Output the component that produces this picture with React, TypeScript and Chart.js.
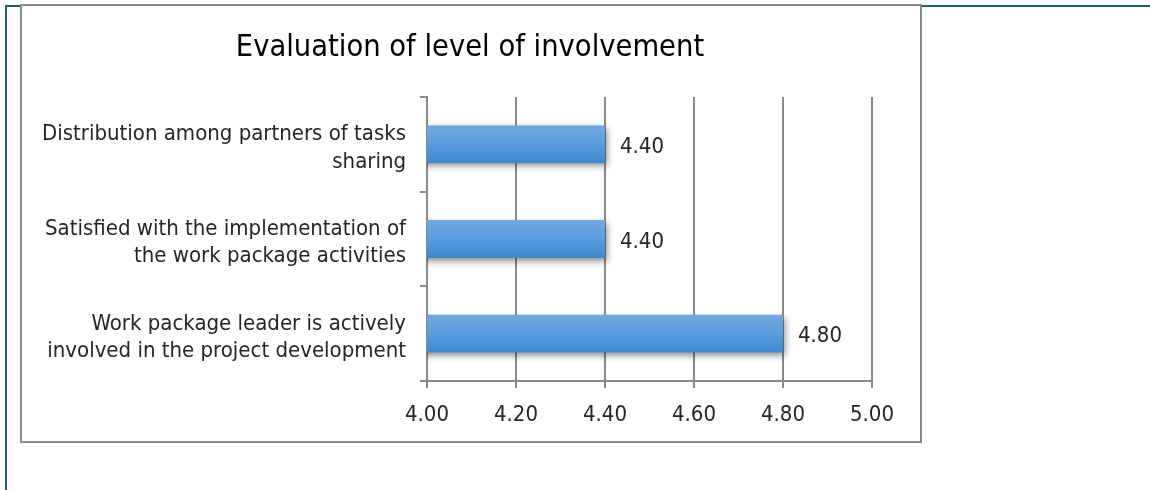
import React, { useEffect, useRef } from "react";
import { Chart, registerables } from "chart.js";

Chart.register(...registerables);

const TITLE = "Evaluation of level of involvement";
const categories: string[][] = [
  ["Distribution among partners of tasks", "sharing"],
  ["Satisfied with the implementation of", "the work package activities"],
  ["Work package leader is actively", "involved in the project development"],
];
const values: number[] = [4.4, 4.4, 4.8];
const xMin = 4.0;
const xMax = 5.0;
const xStep = 0.2;

const FONT = "'Liberation Sans Narrow', 'DejaVu Sans Condensed', 'Liberation Sans', sans-serif";
const GRID = "#8a8a8a";
const TEAL = "#1f5b69";
const TEXT = "#262626";

const framePlugin = {
  id: "frame",
  beforeDraw(chart: any) {
    const ctx = chart.ctx;
    ctx.save();
    ctx.fillStyle = "#ffffff";
    ctx.fillRect(0, 0, chart.width, chart.height);
    ctx.strokeStyle = TEAL;
    ctx.lineWidth = 2;
    ctx.beginPath();
    ctx.moveTo(5, 6);
    ctx.lineTo(chart.width, 6);
    ctx.moveTo(6, 5);
    ctx.lineTo(6, chart.height);
    ctx.stroke();
    ctx.fillStyle = "#ffffff";
    ctx.fillRect(21, 5, 900, 437);
    ctx.strokeStyle = GRID;
    ctx.lineWidth = 2;
    ctx.strokeRect(21, 5, 900, 437);
    ctx.fillStyle = "#000000";
    ctx.font = `30.5px ${FONT}`;
    ctx.textAlign = "center";
    ctx.textBaseline = "middle";
    ctx.fillText(TITLE, 470, 48);
    ctx.restore();
  },
};

const shiftLabelsPlugin = {
  id: "shiftYLabels",
  afterLayout(chart: any) {
    const s = chart.scales.y;
    if (!s || s.__shifted) return;
    const orig = s.drawLabels.bind(s);
    s.drawLabels = (area: any) => {
      const ctx = chart.ctx;
      ctx.save();
      ctx.translate(0, 4);
      orig(area);
      ctx.restore();
    };
    s.__shifted = true;
  },
};

const shadowPlugin = {
  id: "barShadow",
  beforeDatasetDraw(chart: any) {
    const ctx = chart.ctx;
    ctx.save();
    ctx.shadowColor = "rgba(0,0,0,0.45)";
    ctx.shadowBlur = 7;
    ctx.shadowOffsetX = 2;
    ctx.shadowOffsetY = 3;
  },
  afterDatasetDraw(chart: any) {
    chart.ctx.restore();
  },
};

const labelPlugin = {
  id: "valueLabels",
  afterDatasetsDraw(chart: any) {
    const ctx = chart.ctx;
    const meta = chart.getDatasetMeta(0);
    ctx.save();
    ctx.fillStyle = TEXT;
    ctx.font = `22px ${FONT}`;
    ctx.textAlign = "left";
    ctx.textBaseline = "middle";
    meta.data.forEach((el: any, i: number) => {
      ctx.fillText(values[i].toFixed(2), el.x + 15, el.y + 3);
    });
    ctx.restore();
  },
};

export default function App() {
  const ref = useRef<HTMLCanvasElement | null>(null);

  useEffect(() => {
    if (!ref.current) return;
    const chart = new Chart(ref.current, {
      type: "bar",
      data: {
        labels: categories,
        datasets: [
          {
            data: values,
            backgroundColor: (c: any) => {
              const ch = c.chart;
              const y = ch.scales && ch.scales.y;
              if (!ch.chartArea || !y) return "#5a9be0";
              const band = Math.abs(y.getPixelForValue(1) - y.getPixelForValue(0));
              const center = y.getPixelForValue(c.dataIndex);
              const half = (band * 0.4) / 2;
              const g = ch.ctx.createLinearGradient(0, center - half, 0, center + half);
              g.addColorStop(0, "#75a7dd");
              g.addColorStop(0.5, "#589de1");
              g.addColorStop(1, "#3f87cd");
              return g;
            },
            borderWidth: 0,
            barPercentage: 0.4,
            categoryPercentage: 1,
          },
        ],
      },
      options: {
        indexAxis: "y",
        responsive: false,
        animation: false,
        devicePixelRatio: 1,
        layout: { padding: { top: 97, right: 278, left: 0, bottom: 0 } },
        plugins: {
          legend: { display: false },
          title: { display: false },
          tooltip: { enabled: false },
        },
        scales: {
          x: {
            type: "linear",
            min: xMin,
            max: xMax,
            ticks: {
              stepSize: xStep,
              color: TEXT,
              font: { family: FONT, size: 22 },
              padding: 14,
              callback: (v: any) => Number(v).toFixed(2),
            },
            grid: { color: GRID, lineWidth: 2, tickLength: 7, drawOnChartArea: true },
            border: { display: true, color: GRID, width: 2 },
            afterFit: (s: any) => {
              s.height = 109;
            },
          },
          y: {
            type: "category",
            offset: true,
            ticks: {
              color: TEXT,
              font: { family: FONT, size: 22, lineHeight: 1.25 },
              padding: 14,
            },
            grid: { offset: true, drawOnChartArea: false, color: GRID, lineWidth: 2, tickLength: 7 },
            border: { display: true, color: GRID, width: 2 },
            afterFit: (s: any) => {
              s.width = 427;
            },
          },
        },
      },
      plugins: [framePlugin, shiftLabelsPlugin, shadowPlugin, labelPlugin],
    } as any);
    return () => chart.destroy();
  }, []);

  return (
    <div style={{ position: "fixed", left: 0, top: 0, width: 1150, height: 490 }}>
      <canvas ref={ref} width={1150} height={490} style={{ display: "block" }} />
    </div>
  );
}
